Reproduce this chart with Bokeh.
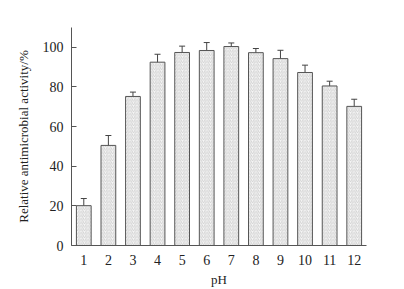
from bokeh.plotting import figure
from bokeh.models import ColumnDataSource, Whisker, TeeHead, FixedTicker, Range1d
from bokeh.embed import file_html
from bokeh.resources import INLINE

ph = [1, 2, 3, 4, 5, 6, 7, 8, 9, 10, 11, 12]
activity = [20.1, 50.5, 75.2, 92.5, 97.4, 98.4, 100.4, 97.3, 94.3, 87.3, 80.5, 70.2]
err = [3.6, 5.0, 2.2, 4.0, 3.2, 4.0, 1.8, 2.1, 4.2, 3.7, 2.4, 3.6]
y_ticks = [0, 20, 40, 60, 80, 100]

upper = [a + e for a, e in zip(activity, err)]
lower = [a - e for a, e in zip(activity, err)]
src = ColumnDataSource(dict(x=ph, top=activity, upper=upper, lower=lower))

FONT = "Liberation Serif"

p = figure(width=404, height=289, output_backend="svg", toolbar_location=None,
           x_range=Range1d(0.5, 12.5), y_range=Range1d(0, 110),
           min_border_left=71, min_border_right=38, min_border_top=27, min_border_bottom=44)
p.outline_line_color = None
p.grid.visible = False
p.background_fill_color = "white"

p.vbar(x="x", top="top", width=0.6, bottom=0, source=src,
       fill_color="#f6f6f6", line_color="#555555", line_width=1,
       hatch_pattern="right_diagonal_line", hatch_color="#b8b8b8",
       hatch_scale=3.5, hatch_weight=0.6)

wh = Whisker(base="x", upper="upper", lower="lower", source=src,
             line_color="#444444", line_width=1,
             upper_head=TeeHead(size=6, line_color="#444444", line_width=1),
             lower_head=TeeHead(size=6, line_color="#444444", line_width=1))
p.add_layout(wh)

p.xaxis.ticker = FixedTicker(ticks=ph)
p.yaxis.ticker = FixedTicker(ticks=y_ticks)
for ax in (p.xaxis, p.yaxis):
    ax.axis_line_color = "#555555"
    ax.axis_line_width = 1
    ax.major_tick_line_color = "#555555"
    ax.minor_tick_line_color = None
    ax.major_label_text_font = FONT
    ax.major_label_text_font_size = "14px"
    ax.major_label_text_color = "#222222"
    ax.axis_label_text_font = FONT
    ax.axis_label_text_font_size = "13px"
    ax.axis_label_text_font_style = "normal"
    ax.axis_label_text_color = "#222222"

p.xaxis.major_tick_in = 0
p.xaxis.major_tick_out = 0
p.xaxis.major_label_standoff = 9
p.xaxis.axis_label = "pH"
p.xaxis.axis_label_standoff = 4

p.yaxis.major_tick_in = 5
p.yaxis.major_tick_out = 0
p.yaxis.major_label_standoff = 8
p.yaxis.axis_label = "Relative antimicrobial activity/%"
p.yaxis.axis_label_standoff = 9

open("out.html", "w").write(file_html(p, INLINE))
